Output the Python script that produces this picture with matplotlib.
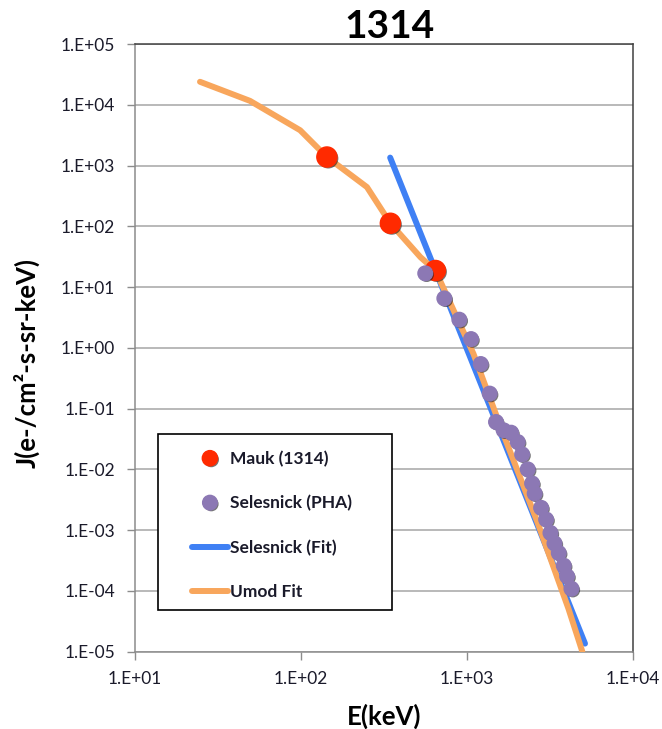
import matplotlib
matplotlib.use('Agg')
import matplotlib.pyplot as plt
import matplotlib.patheffects as pe
from matplotlib.patches import Rectangle
from matplotlib.ticker import FuncFormatter, LogLocator, NullLocator
import numpy as np

plt.rcParams['font.family'] = ['Lato', 'DejaVu Sans']

# Umod fit (orange line)
umod_e = [24.7, 49.4, 99, 143.5, 250, 346, 525, 646, 1094, 1656, 2643, 4083, 4950]
umod_j = [23900, 11600, 3810, 1380, 442, 112, 31, 18.7, 0.80, 0.038, 0.0014, 5.1e-5, 1.0e-5]

# Mauk (1314) red points
mauk_e = [143.5, 346, 646]
mauk_j = [1380, 112, 18.7]

# Selesnick fit (blue power law)
fit_e = [345, 5140]
fit_j = [1350, 1.35e-5]

# Selesnick (PHA) purple points
pha_e = [561, 731, 900, 1059, 1211, 1371, 1497, 1664, 1845, 2022, 2149,
         2323, 2468, 2558, 2797, 2999, 3184, 3366, 3572, 3830, 4011, 4259]
pha_j = [16.8, 6.5, 2.9, 1.39, 0.54, 0.176, 0.060, 0.0438, 0.040, 0.0281, 0.0176,
         0.00996, 0.00585, 0.0040, 0.00232, 0.00149, 0.000895, 0.000605,
         0.000419, 0.000259, 0.000173, 0.000108]

c_red = '#FF2A00'
c_pur = '#8C78B4'
c_blue = '#3F80F4'
c_orng = '#F8A65C'

fig = plt.figure(figsize=(6.62, 7.29), dpi=100)
ax = fig.add_axes([0.2036, 0.1063, 0.7526, 0.8333])

ax.plot(umod_e, umod_j, color=c_orng, lw=4.3, solid_capstyle='round', zorder=3, label='Umod Fit')
ax.plot(fit_e, fit_j, color=c_blue, lw=4.3, solid_capstyle='round', zorder=2, label='Selesnick (Fit)')
shadow = [pe.SimplePatchShadow(offset=(1, -1), shadow_rgbFace='#1a1a1a', alpha=0.6), pe.Normal()]
ax.plot(mauk_e, mauk_j, 'o', color=c_red, ms=14.5, mec=c_red, zorder=4,
        path_effects=shadow, label='Mauk (1314)')
ax.plot(pha_e, pha_j, 'o', color=c_pur, ms=10.5, mec=c_pur, zorder=5,
        path_effects=shadow, label='Selesnick (PHA)')

ax.set_xscale('log')
ax.set_yscale('log')
ax.set_xlim(10, 1e4)
ax.set_ylim(1e-5, 1e5)
ax.xaxis.set_major_locator(LogLocator(base=10, numticks=10))
ax.yaxis.set_major_locator(LogLocator(base=10, numticks=20))
ax.xaxis.set_minor_locator(NullLocator())
ax.yaxis.set_minor_locator(NullLocator())
fmt = FuncFormatter(lambda v, p: '1.E%+03d' % int(round(np.log10(v))))
ax.xaxis.set_major_formatter(fmt)
ax.yaxis.set_major_formatter(fmt)
ax.tick_params(axis='both', which='major', length=6, width=1, color='#8c8c8c',
               labelsize=12.5, labelcolor='#1a1a2a', direction='out')
ax.tick_params(axis='x', pad=8)
ax.tick_params(axis='y', pad=8)

ax.grid(axis='y', color='#a6a6a6', lw=1.1)
ax.grid(axis='x', visible=False)
ax.set_axisbelow(True)
for s in ['left', 'bottom']:
    ax.spines[s].set_color('#8c8c8c')
for s in ['top', 'right']:
    ax.spines[s].set_color('#404040')
for s in ax.spines.values():
    s.set_linewidth(1.1)

ax.set_xlabel('E(keV)', fontsize=18.5, fontweight='bold', va='top')
ax.xaxis.set_label_coords(0.5, -0.0864)
ax.set_ylabel('J(e-/cm²-s-sr-keV)', fontsize=18.5, fontweight='bold', va='top')
ax.yaxis.set_label_coords(-0.2445, 0.475)

fig.text(389.5 / 662, 1 - 27 / 729, '1314', fontsize=28, fontweight='bold',
         ha='center', va='center')

# legend box
box = Rectangle((158 / 662, 1 - 610 / 729), (391.7 - 158) / 662, (610 - 434) / 729,
                transform=fig.transFigure, facecolor='white', edgecolor='black',
                lw=1.2, zorder=6, clip_on=False)
ax.add_patch(box)

h, l = ax.get_legend_handles_labels()
order = [2, 3, 1, 0]
leg = ax.legend([h[i] for i in order], [l[i] for i in order], loc='upper left',
                bbox_to_anchor=(191.7 / 662, 1 - 451 / 729), bbox_transform=fig.transFigure,
                frameon=False, borderpad=0, borderaxespad=0, handlelength=2.1,
                handletextpad=0.1, labelspacing=1.62, numpoints=1,
                prop={'size': 12.5, 'weight': 'bold'})
leg.set_zorder(7)
lh = leg.legend_handles
lh[0].set_markersize(11)
lh[1].set_markersize(10.5)
for t in leg.get_texts():
    t.set_color('#1a1a2a')

fig.savefig('out.png', dpi=100)
